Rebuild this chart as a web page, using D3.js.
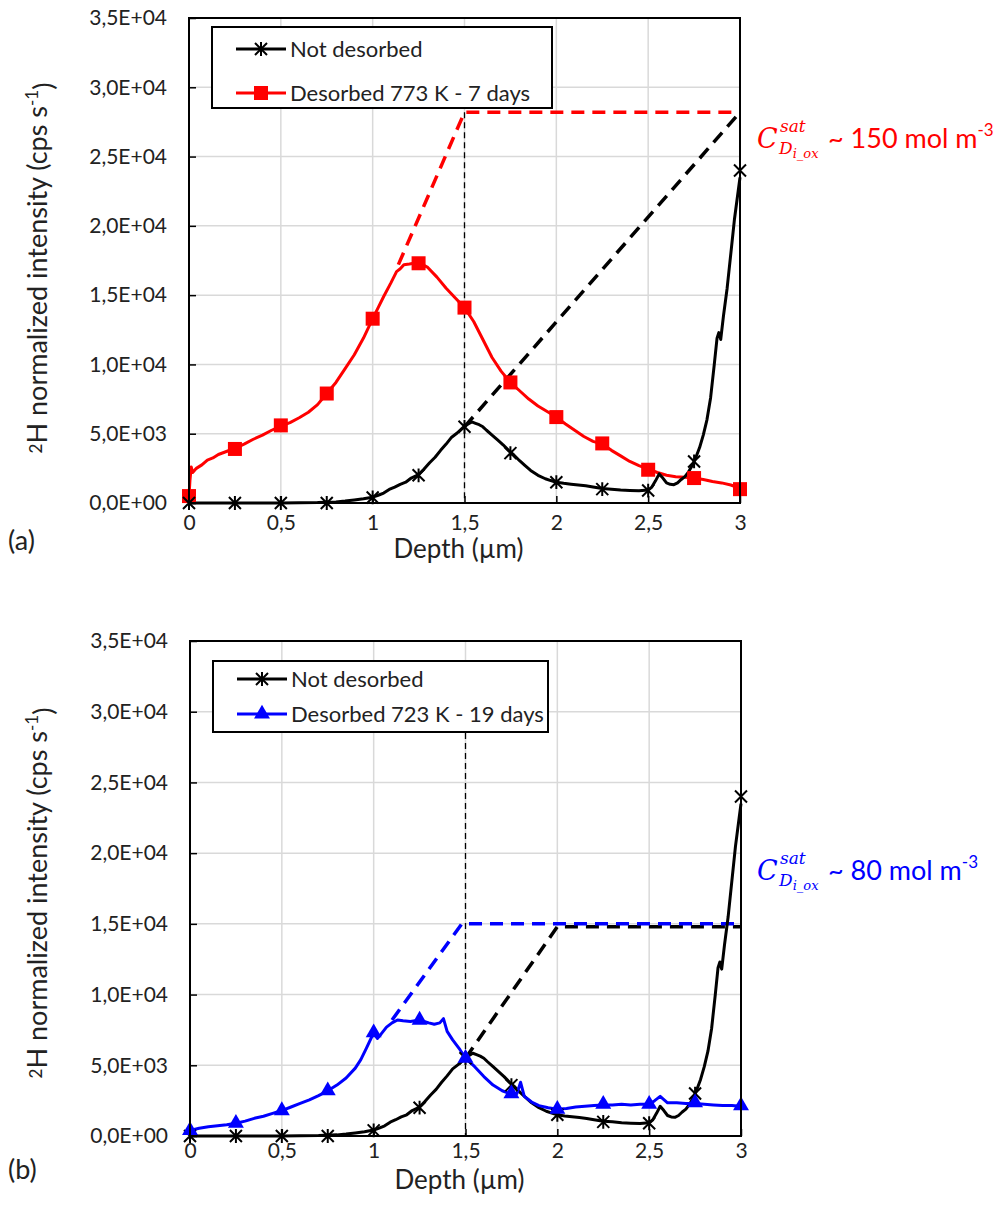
<!DOCTYPE html>
<html><head><meta charset="utf-8">
<script src="https://cdn.jsdelivr.net/npm/d3@7"></script>
<style>
html,body{margin:0;padding:0;background:#fff;}
svg{display:block;}
text{font-family:Lato,"Open Sans",sans-serif;fill:#222;}
</style></head>
<body>
<svg id="chart" width="1001" height="1210"></svg>
<script>
// ---------------- DATA ----------------
const depthTicks = [0, 0.5, 1, 1.5, 2, 2.5, 3];
const depthTickLabels = ["0", "0,5", "1", "1,5", "2", "2,5", "3"];
const intensityTicks = [0, 5000, 10000, 15000, 20000, 25000, 30000, 35000];
const intensityTickLabels = ["0,0E+00", "5,0E+03", "1,0E+04", "1,5E+04", "2,0E+04", "2,5E+04", "3,0E+04", "3,5E+04"];

// Not desorbed (dense profile)
const notDesDepth = [0,0.1,0.2,0.3,0.4,0.5,0.6,0.7,0.8,0.85,0.9,0.95,1.0,1.03,1.06,1.09,1.12,1.15,1.18,1.21,1.25,1.28,1.31,1.34,1.37,1.4,1.43,1.46,1.48,1.5,1.52,1.54,1.56,1.58,1.6,1.62,1.65,1.68,1.71,1.74,1.77,1.8,1.83,1.86,1.9,1.94,1.97,2.0,2.04,2.08,2.12,2.16,2.2,2.25,2.3,2.35,2.4,2.45,2.5,2.52,2.54,2.56,2.58,2.6,2.62,2.64,2.66,2.68,2.7,2.72,2.74,2.76,2.78,2.8,2.82,2.84,2.86,2.875,2.885,2.895,2.91,2.93,2.95,2.97,2.99,3.0];
const notDesValue = [0,0,0,0,0,0,10,30,80,140,220,300,420,560,720,980,1150,1350,1500,1800,2050,2450,2900,3300,3800,4250,4750,5050,5300,5550,5700,5850,5750,5650,5500,5250,4900,4550,4200,3800,3450,3050,2700,2350,2000,1750,1620,1500,1420,1360,1300,1240,1150,1050,1000,930,900,880,930,1150,1600,2100,1800,1450,1350,1320,1450,1700,1900,2250,2700,3300,4000,4900,6000,7600,10000,11900,12300,11800,13500,15500,18000,20500,22500,23500];
const notDesMarkDepth = [0,0.25,0.5,0.75,1,1.25,1.5,1.75,2,2.25,2.5,2.75,3];
const notDesMarkValue = [0,0,0,0,400,2000,5500,3600,1500,1000,900,3000,24000];

// Desorbed 773 K - 7 days
const des773Depth = [0,0.005,0.012,0.02,0.04,0.07,0.1,0.13,0.16,0.2,0.25,0.3,0.35,0.4,0.45,0.5,0.55,0.6,0.65,0.7,0.75,0.8,0.85,0.9,0.95,1.0,1.03,1.06,1.1,1.13,1.15,1.17,1.2,1.25,1.3,1.35,1.4,1.45,1.5,1.55,1.6,1.65,1.7,1.75,1.8,1.85,1.9,1.95,2.0,2.05,2.1,2.15,2.2,2.25,2.3,2.35,2.4,2.45,2.5,2.55,2.6,2.65,2.7,2.75,2.8,2.85,2.9,2.95,3.0];
const des773Value = [500,1600,2600,2200,2500,2750,3100,3250,3500,3700,3950,4250,4600,4900,5250,5550,5800,6150,6550,7100,7900,8700,9700,10700,11900,13300,14100,14900,15900,16700,16900,17200,17250,17350,17000,16300,15500,14800,14100,13100,11800,10500,9500,8700,8100,7500,7000,6600,6200,5700,5250,4800,4450,4250,3800,3400,3000,2700,2450,2200,2000,1900,1850,1800,1700,1550,1450,1300,1050];
const des773MarkDepth = [0,0.25,0.5,0.75,1,1.25,1.5,1.75,2,2.25,2.5,2.75,3];
const des773MarkValue = [500,3900,5600,7900,13300,17300,14100,8700,6200,4300,2400,1800,1000];

// Desorbed 723 K - 19 days
const des723Depth = [0,0.05,0.1,0.15,0.2,0.25,0.3,0.35,0.4,0.45,0.5,0.55,0.6,0.65,0.7,0.75,0.8,0.85,0.9,0.93,0.96,1.0,1.02,1.04,1.07,1.1,1.13,1.16,1.2,1.25,1.3,1.33,1.36,1.38,1.4,1.43,1.47,1.5,1.55,1.6,1.65,1.7,1.75,1.78,1.8,1.82,1.86,1.9,1.95,2.0,2.05,2.1,2.15,2.2,2.25,2.3,2.35,2.4,2.45,2.5,2.53,2.56,2.6,2.65,2.7,2.75,2.8,2.85,2.9,2.95,3.0];
const des723Value = [400,550,650,720,800,900,1050,1250,1400,1600,1800,2050,2300,2550,2850,3200,3600,4100,4800,5400,6200,7300,6900,7200,7700,8000,8200,8150,8100,8200,8000,7900,8000,8300,7400,6800,6100,5500,4900,4200,3600,3200,2950,3000,3800,2800,2400,2150,2000,1900,1950,2050,2100,2150,2200,2200,2250,2200,2250,2250,2500,2800,2350,2350,2300,2300,2250,2200,2150,2150,2100];
const des723MarkDepth = [0,0.25,0.5,0.75,1,1.25,1.5,1.75,2,2.25,2.5,2.75,3];
const des723MarkValue = [400,900,1800,3200,7300,8200,5500,3000,1900,2250,2250,2350,2150];

// Saturation extrapolations (dashed)
const sat773Depth = [1.14, 1.5, 3.0];
const sat773Value = [17200, 28200, 28200];
const notDesExtrapADepth = [1.5, 3.0];
const notDesExtrapAValue = [5500, 28200];
const sat723Depth = [1.1, 1.48, 3.0];
const sat723Value = [8200, 15000, 15000];
const notDesExtrapBDepth = [1.5, 2.0, 3.0];
const notDesExtrapBValue = [5500, 14800, 14800];

const legendA = ["Not desorbed", "Desorbed 773 K - 7 days"];
const legendB = ["Not desorbed", "Desorbed 723 K - 19 days"];

// ---------------- DRAW ----------------
const svg = d3.select("#chart");
const RED = "#ff0000", BLUE = "#0000ff", BLACK = "#000000";
const zip = (xs, ys) => xs.map((x, i) => [x, ys[i]]);

function asterisk(g, cx, cy, s) {
  const p = d3.path();
  p.moveTo(cx - s, cy - s); p.lineTo(cx + s, cy + s);
  p.moveTo(cx - s, cy + s); p.lineTo(cx + s, cy - s);
  p.moveTo(cx, cy - s * 1.15); p.lineTo(cx, cy + s * 1.15);
  g.append("path").attr("d", p.toString()).attr("stroke", BLACK).attr("stroke-width", 2).attr("fill", "none");
}

function panel(cfg) {
  const {l, r, t, b} = cfg.box;
  const x = d3.scaleLinear().domain([0, 3]).range([l, r]);
  const y = d3.scaleLinear().domain([0, 35000]).range([b, t]);
  const g = svg.append("g");

  // grid
  g.append("g").selectAll("line").data(intensityTicks.slice(1, -1)).join("line")
    .attr("x1", l).attr("x2", r).attr("y1", d => y(d)).attr("y2", d => y(d))
    .attr("stroke", "#d9d9d9").attr("stroke-width", 1.5);
  g.append("g").selectAll("line").data(depthTicks.slice(1, -1)).join("line")
    .attr("y1", t).attr("y2", b).attr("x1", d => x(d)).attr("x2", d => x(d))
    .attr("stroke", "#d9d9d9").attr("stroke-width", 1.5);

  // axes (inside ticks)
  const ax = g.append("g").attr("transform", `translate(0,${b})`)
    .call(d3.axisBottom(x).tickValues(depthTicks).tickSizeInner(-7).tickSizeOuter(0).tickFormat((d, i) => depthTickLabels[i]));
  ax.select(".domain").remove();
  ax.selectAll(".tick line").attr("stroke", BLACK).attr("stroke-width", 1.5);
  ax.selectAll("text").attr("font-size", 21).attr("font-family", "Lato").attr("fill", "#222").attr("dy", "0.35em").attr("y", cfg.tickDy);

  const ay = g.append("g").attr("transform", `translate(${l},0)`)
    .call(d3.axisLeft(y).tickValues(intensityTicks).tickSizeInner(-7).tickSizeOuter(0).tickFormat((d, i) => intensityTickLabels[i]).tickPadding(22));
  ay.select(".domain").remove();
  ay.selectAll(".tick line").attr("stroke", BLACK).attr("stroke-width", 1.5);
  ay.selectAll("text").attr("font-size", 21).attr("font-family", "Lato").attr("fill", "#222");

  // dashed extrapolations
  const line = d3.line().x(d => x(d[0])).y(d => y(d[1]));
  cfg.dashed.forEach(dl => {
    g.append("path").attr("d", line(zip(dl.xs, dl.ys))).attr("fill", "none")
      .attr("stroke", dl.color).attr("stroke-width", 3.5).attr("stroke-dasharray", "13,8");
  });

  // thin vertical dashed at 1.5
  g.append("line").attr("x1", x(1.5)).attr("x2", x(1.5)).attr("y1", y(cfg.vTop)).attr("y2", y(0))
    .attr("stroke", BLACK).attr("stroke-width", 1.3).attr("stroke-dasharray", "6,4");

  // data lines
  cfg.series.forEach(s => {
    g.append("path").attr("d", line(zip(s.xs, s.ys))).attr("fill", "none")
      .attr("stroke", s.color).attr("stroke-width", 3).attr("stroke-linejoin", "round");
  });
  // markers
  cfg.series.forEach(s => {
    zip(s.mx, s.my).forEach(([dx, dv]) => {
      const cx = x(dx), cy = y(dv);
      if (s.marker === "star") asterisk(g, cx, cy, 6);
      else if (s.marker === "square") g.append("rect").attr("x", cx - 7).attr("y", cy - 7).attr("width", 14).attr("height", 14).attr("fill", s.color);
      else g.append("path").attr("d", d3.symbol(d3.symbolTriangle, 110)()).attr("transform", `translate(${cx},${cy})`).attr("fill", s.color);
    });
  });

  // frame
  g.append("rect").attr("x", l).attr("y", t).attr("width", r - l).attr("height", b - t)
    .attr("fill", "none").attr("stroke", BLACK).attr("stroke-width", 2);

  // legend
  const L = cfg.legend;
  const lg = g.append("g");
  lg.append("rect").attr("x", L.x).attr("y", L.y).attr("width", L.w).attr("height", L.h)
    .attr("fill", "#fff").attr("stroke", BLACK).attr("stroke-width", 2);
  L.items.forEach((it, i) => {
    const yy = L.y + L.rows[i];
    lg.append("line").attr("x1", L.x + 24).attr("x2", L.x + 74).attr("y1", yy).attr("y2", yy)
      .attr("stroke", it.color).attr("stroke-width", 3);
    const cx = L.x + 49;
    if (it.marker === "star") asterisk(lg, cx, yy, 6);
    else if (it.marker === "square") lg.append("rect").attr("x", cx - 7).attr("y", yy - 7).attr("width", 14).attr("height", 14).attr("fill", it.color);
    else lg.append("path").attr("d", d3.symbol(d3.symbolTriangle, 110)()).attr("transform", `translate(${cx},${yy})`).attr("fill", it.color);
    lg.append("text").attr("x", L.x + 78).attr("y", yy).attr("dy", "0.35em").attr("font-size", 22).text(it.label);
  });

  // axis titles
  g.append("text").attr("x", (l + r) / 2 - 6).attr("y", b + cfg.xTitleDy).attr("text-anchor", "middle")
    .attr("dy", "0.35em").attr("font-size", 26).text("Depth (µm)");
  const yt = g.append("text").attr("transform", `translate(45,${cfg.yTitleY}) rotate(-90)`)
    .attr("text-anchor", "middle").attr("dy", "0.35em").attr("font-size", 27);
  yt.append("tspan").attr("font-size", 17).attr("dy", "-0.2em").text("2");
  yt.append("tspan").attr("dy", "0.2em").text("H normalized intensity (cps s");
  yt.append("tspan").attr("font-size", 17).attr("dy", "-0.55em").text("-1");
  yt.append("tspan").attr("dy", "0.55em").text(")");

  // panel label
  g.append("text").attr("x", 8).attr("y", b + cfg.labelDy).attr("dy", "0.35em").attr("font-size", 27).text(cfg.label);

  // annotation (single text element with positioned tspans)
  const A = cfg.annot;
  const at = g.append("text").attr("x", 757).attr("y", A.y).style("fill", A.color);
  const serif = s => s.attr("font-family", "DejaVu Serif").attr("font-style", "italic");
  serif(at.append("tspan")).attr("font-size", 27).text("C");
  serif(at.append("tspan")).attr("x", 780).attr("dy", -16).attr("font-size", 17).text("sat");
  serif(at.append("tspan")).attr("x", 779).attr("dy", 22).attr("font-size", 17).text("D");
  serif(at.append("tspan")).attr("dy", 4).attr("font-size", 13).text("i_ox");
  at.append("tspan").attr("x", 828).attr("dy", -10).attr("font-size", 27).text(A.text);
  at.append("tspan").attr("dy", -12).attr("font-size", 17).text("-3");
}

panel({
  box: {l: 189, r: 740, t: 18, b: 503},
  dashed: [
    {xs: sat773Depth, ys: sat773Value, color: RED},
    {xs: notDesExtrapADepth, ys: notDesExtrapAValue, color: BLACK}
  ],
  vTop: 28200,
  series: [
    {xs: des773Depth, ys: des773Value, mx: des773MarkDepth, my: des773MarkValue, color: RED, marker: "square"},
    {xs: notDesDepth, ys: notDesValue, mx: notDesMarkDepth, my: notDesMarkValue, color: BLACK, marker: "star"}
  ],
  legend: {x: 212, y: 27, w: 340, h: 81, rows: [22, 66],
    items: [{label: legendA[0], color: BLACK, marker: "star"}, {label: legendA[1], color: RED, marker: "square"}]},
  tickDy: 20, xTitleDy: 46, yTitleY: 268, labelDy: 38, label: "(a)",
  annot: {y: 148, color: RED, text: "~ 150 mol m"}
});

panel({
  box: {l: 190, r: 741, t: 641, b: 1136},
  dashed: [
    {xs: notDesExtrapBDepth, ys: notDesExtrapBValue, color: BLACK},
    {xs: sat723Depth, ys: sat723Value, color: BLUE}
  ],
  vTop: 28500,
  series: [
    {xs: notDesDepth, ys: notDesValue, mx: notDesMarkDepth, my: notDesMarkValue, color: BLACK, marker: "star"},
    {xs: des723Depth, ys: des723Value, mx: des723MarkDepth, my: des723MarkValue, color: BLUE, marker: "triangle"}
  ],
  legend: {x: 213, y: 661, w: 335, h: 71, rows: [18, 53],
    items: [{label: legendB[0], color: BLACK, marker: "star"}, {label: legendB[1], color: BLUE, marker: "triangle"}]},
  tickDy: 15, xTitleDy: 44, yTitleY: 893, labelDy: 34, label: "(b)",
  annot: {y: 880, color: BLUE, text: "~ 80 mol m"}
});
</script>
</body></html>
